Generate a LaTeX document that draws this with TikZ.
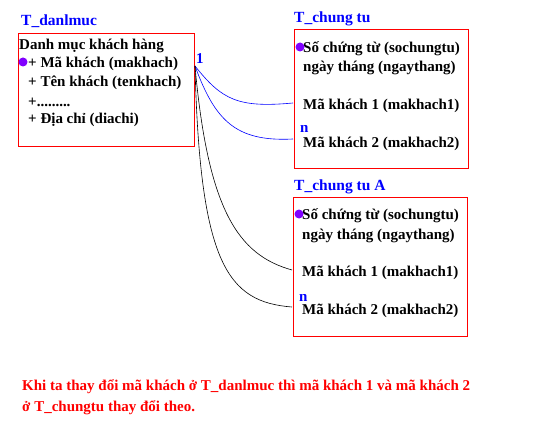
\documentclass[tikz,border=0pt]{standalone}
\usepackage{fontspec}
\setmainfont{Liberation Serif}
\definecolor{keydot}{RGB}{128,0,255}
\begin{document}
\begin{tikzpicture}[x=1pt, y=-1pt,
    table/.style={rectangle, draw=red, line width=0.8pt, anchor=north west, inner sep=0pt},
    title/.style={anchor=west, text=blue, font=\bfseries\fontsize{15.5}{17}\selectfont, inner sep=0pt},
    field/.style={anchor=west, font=\bfseries\fontsize{15}{17}\selectfont, inner sep=0pt},
    note/.style={anchor=west, text=red, font=\bfseries\fontsize{15}{17}\selectfont, inner sep=0pt},
    card/.style={anchor=west, text=blue, font=\bfseries\fontsize{15}{17}\selectfont, inner sep=0pt},
    key/.style={circle, fill=keydot, inner sep=0pt, minimum size=9pt},
    link/.style={blue, line width=0.6pt},
    linkA/.style={black, line width=0.6pt}
]
    \useasboundingbox (0,0) rectangle (539,444);

    % T_danlmuc
    \node[title] (tdm) at (21,21) {T\_danlmuc};
    \node[table, minimum width=176pt, minimum height=113pt] (danhmuc) at (18,33) {};
    \node[field] (dmkh) at (19,46) {Danh mục khách hàng};
    \node[field] (makhach) at (28,64) {+ Mã khách (makhach)};
    \node[field] (tenkhach) at (28,83) {+ Tên khách (tenkhach)};
    \node[field] (more) at (28,102) {+.........};
    \node[field] (diachi) at (28,120) {+ Địa chỉ (diachi)};
    \node[key] (k0) at (23,62) {};
    \coordinate (one) at (195,66);
    \node[card] (c1) at (196,59) {1};

    % T_chung tu
    \node[title] (tct) at (294,19) {T\_chung tu};
    \node[table, minimum width=174pt, minimum height=139pt] (chungtu) at (294,29) {};
    \node[field] (so) at (303,49) {Số chứng từ (sochungtu)};
    \node[field] (ngay) at (303,68) {ngày tháng (ngaythang)};
    \node[field] (mk1) at (303,106) {Mã khách 1 (makhach1)};
    \node[field] (mk2) at (303,144) {Mã khách 2 (makhach2)};
    \node[key] (k1) at (300,47) {};
    \node[card] (n1) at (300,129) {n};
    \coordinate (e1) at (293,103);
    \coordinate (e2) at (293,139);

    % T_chung tu A
    \node[title] (tcta) at (294,187) {T\_chung tu A};
    \node[table, minimum width=174pt, minimum height=139pt] (chungtuA) at (293,197) {};
    \node[field] (soA) at (302,216) {Số chứng từ (sochungtu)};
    \node[field] (ngayA) at (302,236) {ngày tháng (ngaythang)};
    \node[field] (mk1A) at (302,273) {Mã khách 1 (makhach1)};
    \node[field] (mk2A) at (302,311) {Mã khách 2 (makhach2)};
    \node[key] (k2) at (299,214) {};
    \node[card] (n2) at (299,298) {n};
    \coordinate (e3) at (292,270);
    \coordinate (e4) at (292,307);

    % Links
    \draw[link] (one) .. controls (222,100) and (238,108) .. (e1);
    \draw[link] (one) .. controls (215,120) and (235,142) .. (e2);
    \draw[linkA] (one) .. controls (208,210) and (238,255) .. (e3);
    \draw[linkA] (one) .. controls (200,265) and (228,302) .. (e4);

    % Note
    \node[note] (note1) at (22,387) {Khi ta thay đổi mã khách ở T\_danlmuc thì mã khách 1 và mã khách 2};
    \node[note] (note2) at (22,408) {ở T\_chungtu thay đổi theo.};
\end{tikzpicture}
\end{document}
